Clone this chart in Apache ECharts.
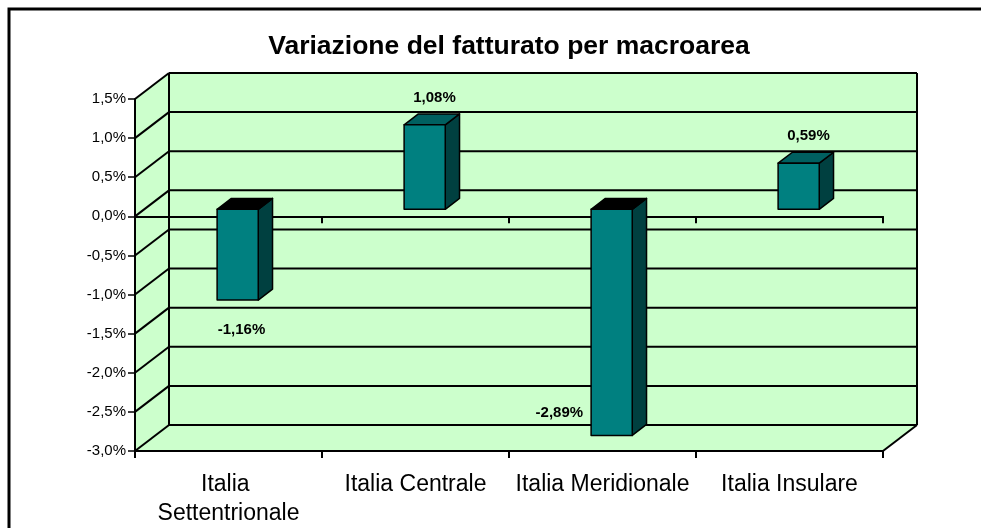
<!DOCTYPE html>
<html>
<head>
<meta charset="utf-8">
<script src="https://cdn.jsdelivr.net/npm/echarts@6/dist/echarts.min.js"></script>
<style>
html, body { margin: 0; padding: 0; background: #fff; }
#chart { width: 981px; height: 528px; }
</style>
</head>
<body>
<div id="chart"></div>
<script>
// dati
var categories = ['Italia Settentrionale', 'Italia Centrale', 'Italia Meridionale', 'Italia Insulare'];
var values = [-1.16, 1.08, -2.89, 0.59];
var yTicks = [-3.0, -2.5, -2.0, -1.5, -1.0, -0.5, 0.0, 0.5, 1.0, 1.5];
var titleText = 'Variazione del fatturato per macroarea';

var FONT = '"Liberation Sans", Arial, sans-serif';
var DEPTH = [34, -26];          // spostamento della parete di fondo (px)
var BAR_D0 = 0.27, BAR_D1 = 0.69; // profondità della barra (frazione)
var BAR_W = 0.22;               // larghezza barra / categoria
var LINE = { stroke: '#000', lineWidth: 2 };

function fmt(v, digits) {
    return v.toFixed(digits).replace('.', ',') + '%';
}

var chart = echarts.init(document.getElementById('chart'));

// pareti verdi + griglia sul fondo
var wallRender = function (params, api) {
    var cs = params.coordSys;
    var dx = DEPTH[0], dy = DEPTH[1];
    var xL = cs.x, xR = cs.x + cs.width;
    var yT = api.coord([0, yTicks[yTicks.length - 1]])[1];
    var yB = api.coord([0, yTicks[0]])[1];
    var fill = '#CCFFCC';
    var children = [
        { type: 'polygon', shape: { points: [[xL + dx, yT + dy], [xR + dx, yT + dy], [xR + dx, yB + dy], [xL + dx, yB + dy]] }, style: { fill: fill } },
        { type: 'polygon', shape: { points: [[xL, yT], [xL + dx, yT + dy], [xL + dx, yB + dy], [xL, yB]] }, style: { fill: fill } },
        { type: 'polygon', shape: { points: [[xL, yB], [xL + dx, yB + dy], [xR + dx, yB + dy], [xR, yB]] }, style: { fill: fill } }
    ];
    yTicks.forEach(function (t) {
        var y = api.coord([0, t])[1];
        children.push({ type: 'line', shape: { x1: xL, y1: y, x2: xL + dx, y2: y + dy }, style: LINE });
        children.push({ type: 'line', shape: { x1: xL + dx, y1: y + dy, x2: xR + dx, y2: y + dy }, style: LINE });
    });
    children.push({ type: 'line', shape: { x1: xL + dx, y1: yT + dy, x2: xL + dx, y2: yB + dy }, style: LINE });
    children.push({ type: 'line', shape: { x1: xR + dx, y1: yT + dy, x2: xR + dx, y2: yB + dy }, style: LINE });
    children.push({ type: 'line', shape: { x1: xR, y1: yB, x2: xR + dx, y2: yB + dy }, style: LINE });
    return { type: 'group', children: children };
};

// barre 3D
var barRender = function (params, api) {
    var cs = params.coordSys;
    var i = api.value(0), v = api.value(1);
    var p0 = api.coord([i, 0]);
    var p1 = api.coord([i, v]);
    var w = api.size([1, 0])[0] * BAR_W;
    var fx = DEPTH[0] * BAR_D0, fy = DEPTH[1] * BAR_D0;
    var ddx = DEPTH[0] * (BAR_D1 - BAR_D0), ddy = DEPTH[1] * (BAR_D1 - BAR_D0);
    var xl = p0[0] - w / 2 + fx, xr = xl + w;
    var yTop = Math.min(p0[1], p1[1]) + fy, yBot = Math.max(p0[1], p1[1]) + fy;
    var edge = { stroke: '#000', lineWidth: 1.5, lineJoin: 'round' };
    var children = [
        { type: 'polygon', shape: { points: [[xr, yTop], [xr + ddx, yTop + ddy], [xr + ddx, yBot + ddy], [xr, yBot]] },
          style: Object.assign({ fill: '#004040' }, edge) },
        { type: 'polygon', shape: { points: [[xl, yTop], [xl + ddx, yTop + ddy], [xr + ddx, yTop + ddy], [xr, yTop]] },
          style: Object.assign({ fill: v >= 0 ? '#006060' : '#000000' }, edge) },
        { type: 'polygon', shape: { points: [[xl, yTop], [xr, yTop], [xr, yBot], [xl, yBot]] },
          style: Object.assign({ fill: '#008080' }, edge) }
    ];
    var lx, ly, align = 'center';
    var floorY = cs.y + cs.height;
    if (v >= 0) {
        lx = p1[0] + 19; ly = p1[1] - 34;
    } else if (p1[1] + 30 < floorY) {
        lx = p1[0] + 13; ly = p1[1] + 23;
    } else {
        lx = xl - 8; ly = yBot - 23; align = 'right';
    }
    children.push({
        type: 'text',
        style: {
            text: fmt(v, 2), x: lx, y: ly, align: align, verticalAlign: 'middle',
            font: 'bold 15px ' + FONT, fill: '#000'
        }
    });
    return { type: 'group', children: children };
};

var option = {
    backgroundColor: '#fff',
    animation: false,
    title: {
        text: titleText,
        left: 509,
        top: 33,
        textAlign: 'center',
        padding: 0,
        textStyle: { fontFamily: FONT, fontSize: 26.5, fontWeight: 'bold', color: '#000' }
    },
    grid: { left: 135, right: 98, top: 99, bottom: 77 },
    xAxis: [{
        type: 'category',
        data: categories,
        position: 'bottom',
        z: 3,
        axisLine: { onZero: false, lineStyle: { color: '#000', width: 2 } },
        axisTick: { show: true, length: 7, lineStyle: { color: '#000', width: 2 } },
        axisLabel: {
            interval: 0, margin: 19, color: '#000', fontFamily: FONT, fontSize: 23,
            lineHeight: 29, width: 186, overflow: 'break'
        },
        splitLine: { show: false }
    }, {
        type: 'category',
        data: categories,
        position: 'top',
        z: 3,
        axisLine: { onZero: true, lineStyle: { color: '#000', width: 2 } },
        axisTick: { show: true, inside: true, length: 7, lineStyle: { color: '#000', width: 2 } },
        axisLabel: { show: false },
        splitLine: { show: false }
    }],
    yAxis: {
        type: 'value',
        min: -3,
        max: 1.5,
        interval: 0.5,
        z: 3,
        axisLine: { show: true, onZero: false, lineStyle: { color: '#000', width: 2 } },
        axisTick: { show: true, length: 7, lineStyle: { color: '#000', width: 1.5 } },
        axisLabel: {
            margin: 9, color: '#000', fontFamily: FONT, fontSize: 15,
            formatter: function (v) { return fmt(v, 1); }
        },
        splitLine: { show: false }
    },
    graphic: [{
        type: 'rect',
        shape: { x: 9, y: 9, width: 1000, height: 600 },
        style: { fill: 'none', stroke: '#000', lineWidth: 3 },
        z: 0
    }],
    series: [{
        type: 'custom',
        name: 'pareti',
        z: 1,
        silent: true,
        renderItem: wallRender,
        data: [[0, 0]]
    }, {
        type: 'custom',
        name: 'variazione',
        z: 5,
        renderItem: barRender,
        data: values.map(function (v, i) { return [i, v]; })
    }]
};
chart.setOption(option);
</script>
</body>
</html>
